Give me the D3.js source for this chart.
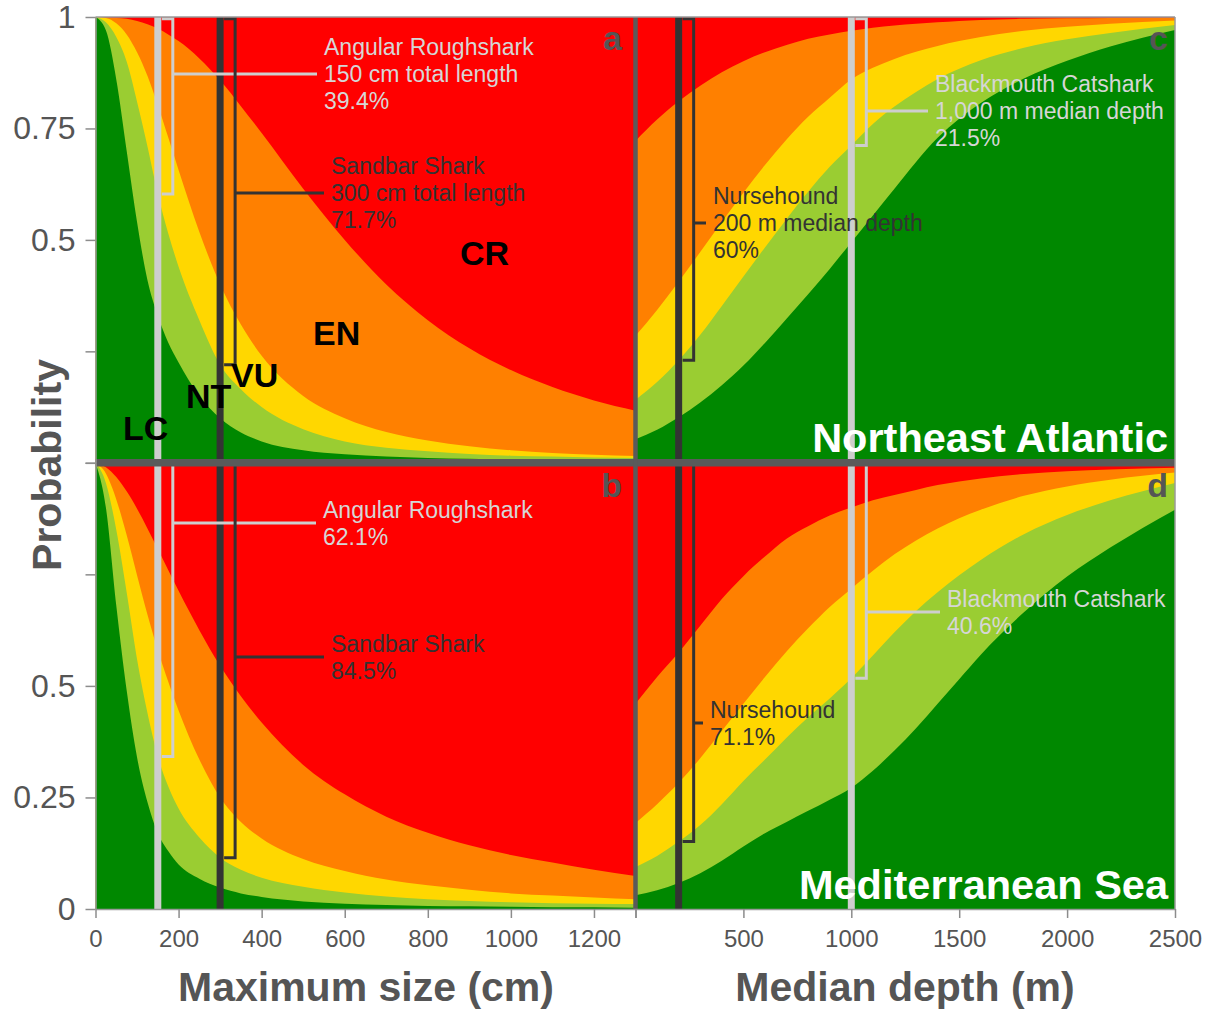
<!DOCTYPE html>
<html>
<head>
<meta charset="utf-8">
<script src="https://cdn.jsdelivr.net/npm/d3@7"></script>
<style>
  html, body { margin: 0; padding: 0; background: #ffffff; }
  svg { display: block; font-family: "Liberation Sans", Arial, Helvetica, sans-serif; }
</style>
</head>
<body>
<svg id="chart" width="1211" height="1009"></svg>
<script>
// ---------------------------------------------------------------
// Data: cumulative probability of each Red List category
// (P(LC), P(<=NT), P(<=VU), P(<=EN)); CR fills the rest up to 1.
// ---------------------------------------------------------------
const categories = ["LC", "NT", "VU", "EN", "CR"];

// Maximum size (cm) sample points, panels a and b
const sizeCm = [0, 25, 50, 75, 100, 125, 150, 175, 200, 250, 300, 350, 400, 500, 600, 700, 800, 900, 1000, 1100, 1200, 1300];

// a: Northeast Atlantic, maximum size
const atlSizeLC = [1, 0.97, 0.86, 0.70, 0.54, 0.41, 0.33, 0.27, 0.225, 0.15, 0.10, 0.068, 0.048, 0.028, 0.019, 0.014, 0.011, 0.009, 0.007, 0.006, 0.005, 0.004];
const atlSizeNT = [1, 0.988, 0.955, 0.90, 0.81, 0.71, 0.603, 0.515, 0.44, 0.32, 0.22, 0.165, 0.125, 0.075, 0.048, 0.034, 0.026, 0.02, 0.016, 0.014, 0.012, 0.011];
const atlSizeVU = [1, 0.998, 0.986, 0.961, 0.921, 0.868, 0.802, 0.73, 0.657, 0.518, 0.40, 0.31, 0.24, 0.15, 0.10, 0.069, 0.05, 0.037, 0.028, 0.022, 0.018, 0.015];
const atlSizeEN = [1, 0.999, 0.998, 0.996, 0.991, 0.984, 0.974, 0.961, 0.946, 0.907, 0.858, 0.80, 0.74, 0.615, 0.50, 0.40, 0.32, 0.257, 0.208, 0.17, 0.14, 0.117];

// b: Mediterranean Sea, maximum size
const medSizeLC = [1, 0.90, 0.68, 0.49, 0.34, 0.24, 0.17, 0.13, 0.10, 0.068, 0.048, 0.035, 0.027, 0.017, 0.012, 0.009, 0.007, 0.006, 0.005, 0.004, 0.004, 0.003];
const medSizeNT = [1, 0.955, 0.85, 0.71, 0.56, 0.44, 0.342, 0.275, 0.225, 0.16, 0.115, 0.088, 0.07, 0.05, 0.037, 0.028, 0.022, 0.018, 0.015, 0.013, 0.012, 0.011];
const medSizeVU = [1, 0.976, 0.918, 0.838, 0.748, 0.66, 0.58, 0.51, 0.445, 0.335, 0.25, 0.195, 0.158, 0.112, 0.085, 0.066, 0.053, 0.043, 0.035, 0.03, 0.026, 0.022];
const medSizeEN = [1, 0.99, 0.968, 0.936, 0.897, 0.853, 0.807, 0.76, 0.713, 0.625, 0.545, 0.477, 0.418, 0.323, 0.257, 0.207, 0.171, 0.143, 0.121, 0.104, 0.088, 0.074];

// Median depth (m) sample points, panels c and d
const depthM = [0, 100, 200, 300, 400, 500, 600, 700, 800, 900, 1000, 1100, 1200, 1300, 1400, 1500, 1600, 1800, 2000, 2200, 2500];

// c: Northeast Atlantic, median depth
const atlDepthLC = [0.053, 0.074, 0.102, 0.135, 0.174, 0.218, 0.269, 0.323, 0.378, 0.435, 0.495, 0.555, 0.615, 0.675, 0.729, 0.772, 0.807, 0.862, 0.902, 0.934, 0.971];
const atlDepthNT = [0.141, 0.181, 0.23, 0.287, 0.352, 0.418, 0.483, 0.547, 0.608, 0.664, 0.712, 0.76, 0.799, 0.832, 0.861, 0.884, 0.903, 0.931, 0.95, 0.964, 0.982];
const atlDepthVU = [0.285, 0.343, 0.406, 0.473, 0.54, 0.606, 0.668, 0.725, 0.776, 0.819, 0.86, 0.886, 0.906, 0.922, 0.935, 0.946, 0.955, 0.969, 0.978, 0.985, 0.992];
const atlDepthEN = [0.722, 0.77, 0.811, 0.846, 0.876, 0.901, 0.921, 0.937, 0.951, 0.961, 0.969, 0.976, 0.981, 0.985, 0.988, 0.991, 0.993, 0.996, 0.997, 0.998, 0.999];

// d: Mediterranean Sea, median depth
const medDepthLC = [0.031, 0.042, 0.058, 0.08, 0.108, 0.14, 0.17, 0.195, 0.22, 0.245, 0.272, 0.31, 0.355, 0.405, 0.46, 0.515, 0.57, 0.665, 0.745, 0.81, 0.895];
const medDepthNT = [0.094, 0.119, 0.151, 0.188, 0.235, 0.287, 0.335, 0.384, 0.43, 0.472, 0.517, 0.568, 0.62, 0.668, 0.71, 0.748, 0.782, 0.84, 0.883, 0.916, 0.955];
const medDepthVU = [0.193, 0.235, 0.283, 0.338, 0.399, 0.46, 0.52, 0.577, 0.629, 0.677, 0.718, 0.758, 0.795, 0.826, 0.853, 0.876, 0.895, 0.926, 0.947, 0.962, 0.978];
const medDepthEN = [0.46, 0.52, 0.575, 0.635, 0.695, 0.746, 0.79, 0.83, 0.858, 0.882, 0.90, 0.916, 0.928, 0.939, 0.95, 0.958, 0.965, 0.975, 0.981, 0.985, 0.989];

// Example species (marker positions on each x axis)
const sizeMarkers = [150, 300];     // Angular Roughshark, Sandbar Shark
const depthMarkers = [200, 1000];   // Nursehound, Blackmouth Catshark

// Annotation texts
const atlSizeNotes = [["Angular Roughshark", "150 cm total length", "39.4%"], ["Sandbar Shark", "300 cm total length", "71.7%"]];
const medSizeNotes = [["Angular Roughshark", "62.1%"], ["Sandbar Shark", "84.5%"]];
const atlDepthNotes = [["Nursehound", "200 m median depth", "60%"], ["Blackmouth Catshark", "1,000 m median depth", "21.5%"]];
const medDepthNotes = [["Nursehound", "71.1%"], ["Blackmouth Catshark", "40.6%"]];

// Tick labels
const sizeTicks = [0, 200, 400, 600, 800, 1000, 1200, 1300];
const depthTicks = [0, 500, 1000, 1500, 2000, 2500];
const probTicks = [0, 0.25, 0.5, 0.75, 1];
const topProbLabels = [0.5, 0.75, 1];
const bottomProbLabels = [0, 0.25, 0.5];
const regions = ["Northeast Atlantic", "Mediterranean Sea"];
const panelLetters = ["a", "b", "c", "d"];

// ---------------------------------------------------------------
// Layout and styles
// ---------------------------------------------------------------
const X0 = 95.5, XM = 635.5, X1 = 1175, YT = 17, YM = 462.8, YB = 909;
const bandColors = ["#008800", "#9acd32", "#ffd700", "#ff8000", "#ff0000"];
const lightGrey = "#cecece", darkGrey = "#333333", axisGrey = "#555555";
const markerColors = { size: [lightGrey, darkGrey], depth: [darkGrey, lightGrey] };

const xSize = d3.scaleLinear().domain([0, 1300]).range([X0, XM]);
const xDepth = d3.scaleLinear().domain([0, 2500]).range([XM, X1]);
const yTop = d3.scaleLinear().domain([0, 1]).range([YM, YT]);
const yBot = d3.scaleLinear().domain([0, 1]).range([YB, YM]);

const svg = d3.select("#chart");

const panels = [
  { key: "a", xs: sizeCm, x: xSize, y: yTop, bounds: [atlSizeLC, atlSizeNT, atlSizeVU, atlSizeEN],
    markers: sizeMarkers, colors: markerColors.size, notes: atlSizeNotes,
    noteLayout: [{ tx: 324, cy: 74 }, { tx: 331, cy: 193 }], letter: { x: 622, y: 50 } },
  { key: "b", xs: sizeCm, x: xSize, y: yBot, bounds: [medSizeLC, medSizeNT, medSizeVU, medSizeEN],
    markers: sizeMarkers, colors: markerColors.size, notes: medSizeNotes,
    noteLayout: [{ tx: 323, cy: 523 }, { tx: 331, cy: 657 }], letter: { x: 622, y: 497 } },
  { key: "c", xs: depthM, x: xDepth, y: yTop, bounds: [atlDepthLC, atlDepthNT, atlDepthVU, atlDepthEN],
    markers: depthMarkers, colors: markerColors.depth, notes: atlDepthNotes,
    noteLayout: [{ tx: 713, cy: 223 }, { tx: 935, cy: 111 }], letter: { x: 1168, y: 50 } },
  { key: "d", xs: depthM, x: xDepth, y: yBot, bounds: [medDepthLC, medDepthNT, medDepthVU, medDepthEN],
    markers: depthMarkers, colors: markerColors.depth, notes: medDepthNotes,
    noteLayout: [{ tx: 710, cy: 723 }, { tx: 947, cy: 612 }], letter: { x: 1168, y: 497 } }
];

const defs = svg.append("defs");

// ---- stacked category bands ----
panels.forEach(p => {
  const [xa, xb] = p.x.range();
  const [yb, ya] = p.y.range();
  defs.append("clipPath").attr("id", "clip-" + p.key)
    .append("rect").attr("x", xa).attr("y", ya).attr("width", xb - xa).attr("height", yb - ya);

  const g = svg.append("g").attr("clip-path", "url(#clip-" + p.key + ")");
  const ones = p.xs.map(() => 1);
  const uppers = [p.bounds[0], p.bounds[1], p.bounds[2], p.bounds[3], ones];
  const idx = d3.range(p.xs.length);
  // draw CR first and LC last so each band sits on top of the next
  for (let k = 4; k >= 0; k--) {
    const upper = uppers[k];
    const area = d3.area()
      .curve(d3.curveMonotoneX)
      .x(i => p.x(p.xs[i]))
      .y0(p.y(0))
      .y1(i => p.y(upper[i]));
    g.append("path").datum(idx)
      .attr("d", area)
      .attr("fill", bandColors[k]);
  }
});

// ---- species marker lines (run through both regions) ----
const markerGroup = svg.append("g");
[[xSize, sizeMarkers, markerColors.size], [xDepth, depthMarkers, markerColors.depth]].forEach(([xs, vals, cols]) => {
  vals.forEach((v, i) => {
    markerGroup.append("line")
      .attr("x1", xs(v)).attr("x2", xs(v))
      .attr("y1", YT).attr("y2", YB)
      .attr("stroke", cols[i]).attr("stroke-width", 7);
  });
});

// ---- brackets (probability of a threatened listing) and notes ----
panels.forEach(p => {
  const g = svg.append("g");
  p.markers.forEach((m, i) => {
    const col = p.colors[i];
    const mx = p.x(m);
    const j = p.xs.indexOf(m);
    const yEnd = p.y(p.bounds[1][j]);
    const yStart = p.y(1) + 1.8;
    const bx = mx + 15;
    g.append("path")
      .attr("d", `M${mx + 4},${yStart}H${bx}V${yEnd}H${mx + 4}`)
      .attr("fill", "none").attr("stroke", col).attr("stroke-width", 3);

    const lay = p.noteLayout[i];
    const lines = p.notes[i];
    g.append("line")
      .attr("x1", bx).attr("x2", lay.tx - 7)
      .attr("y1", lay.cy).attr("y2", lay.cy)
      .attr("stroke", col).attr("stroke-width", 3);

    const lineH = 27, capH = 16.5;
    const firstBase = lay.cy - (capH + (lines.length - 1) * lineH) / 2 + capH;
    const t = g.append("text")
      .attr("x", lay.tx).attr("y", firstBase)
      .attr("font-size", 23).attr("fill", col === lightGrey ? "#d6d6d6" : col);
    lines.forEach((ln, li) => {
      t.append("tspan").attr("x", lay.tx).attr("dy", li === 0 ? 0 : lineH).text(ln);
    });
  });
});

// ---- category labels inside panel a ----
const catPos = [{ x: 123, y: 440 }, { x: 186, y: 408 }, { x: 231, y: 387 }, { x: 313, y: 345 }, { x: 460, y: 265 }];
svg.append("g").selectAll("text").data(categories).join("text")
  .attr("x", (d, i) => catPos[i].x).attr("y", (d, i) => catPos[i].y)
  .attr("font-size", 34).attr("font-weight", "bold").attr("fill", "#000")
  .text(d => d);

// ---- panel letters ----
svg.append("g").selectAll("text").data(panels).join("text")
  .attr("x", d => d.letter.x).attr("y", d => d.letter.y)
  .attr("text-anchor", "end").attr("font-size", 34).attr("font-weight", "bold")
  .attr("fill", axisGrey)
  .text((d, i) => panelLetters[i]);

// ---- region titles ----
svg.append("g").selectAll("text").data(regions).join("text")
  .attr("x", 1168).attr("y", (d, i) => i === 0 ? 452 : 899)
  .attr("text-anchor", "end").attr("font-size", 41.5).attr("font-weight", "bold")
  .attr("fill", "#ffffff")
  .text(d => d);

// ---- dividers between regions and between predictors ----
svg.append("line").attr("x1", X0).attr("x2", X1).attr("y1", YM).attr("y2", YM)
  .attr("stroke", "#5a5a5a").attr("stroke-width", 7.5);
svg.append("line").attr("x1", XM).attr("x2", XM).attr("y1", YT).attr("y2", YB)
  .attr("stroke", "#5a5a5a").attr("stroke-width", 4.5);

// ---- frame ----
svg.append("line").attr("x1", X0).attr("x2", X1).attr("y1", YT).attr("y2", YT)
  .attr("stroke", "#9a9a9a").attr("stroke-width", 1.5);
svg.append("line").attr("x1", X1).attr("x2", X1).attr("y1", YT).attr("y2", YB)
  .attr("stroke", "#9a9a9a").attr("stroke-width", 1.5);

// ---- axes ----
function styleAxis(g, fontSize) {
  g.select(".domain").attr("stroke", "#9a9a9a").attr("stroke-width", 1.5);
  g.selectAll(".tick line").attr("stroke", "#8c8c8c").attr("stroke-width", 1.5);
  g.selectAll(".tick text").attr("fill", axisGrey).attr("font-size", fontSize)
    .attr("font-family", "'Liberation Sans', Arial, Helvetica, sans-serif");
}

[[yTop, topProbLabels], [yBot, bottomProbLabels]].forEach(([ys, shown]) => {
  const ax = d3.axisLeft(ys).tickValues(probTicks).tickSize(10).tickSizeOuter(0).tickPadding(10)
    .tickFormat(d => shown.includes(d) ? String(d) : "");
  const g = svg.append("g").attr("transform", `translate(${X0},0)`).call(ax);
  styleAxis(g, 32);
});

const axSize = d3.axisBottom(xSize).tickValues(sizeTicks).tickSize(9).tickSizeOuter(0).tickPadding(12)
  .tickFormat(d => d === 1300 ? "" : String(d));
styleAxis(svg.append("g").attr("transform", `translate(0,${YB})`).call(axSize), 24);

const axDepth = d3.axisBottom(xDepth).tickValues(depthTicks).tickSize(9).tickSizeOuter(0).tickPadding(12)
  .tickFormat(d => d === 0 ? "" : String(d));
styleAxis(svg.append("g").attr("transform", `translate(0,${YB})`).call(axDepth), 24);

// ---- axis titles ----
const titleStyle = sel => sel.attr("font-size", 41).attr("font-weight", "bold").attr("fill", axisGrey);
svg.append("text").attr("x", 366).attr("y", 1001).attr("text-anchor", "middle")
  .call(titleStyle).text("Maximum size (cm)");
svg.append("text").attr("x", 905).attr("y", 1001).attr("text-anchor", "middle")
  .call(titleStyle).text("Median depth (m)");
svg.append("text").attr("transform", "translate(61,465) rotate(-90)").attr("text-anchor", "middle")
  .call(titleStyle).text("Probability");
</script>
</body>
</html>
